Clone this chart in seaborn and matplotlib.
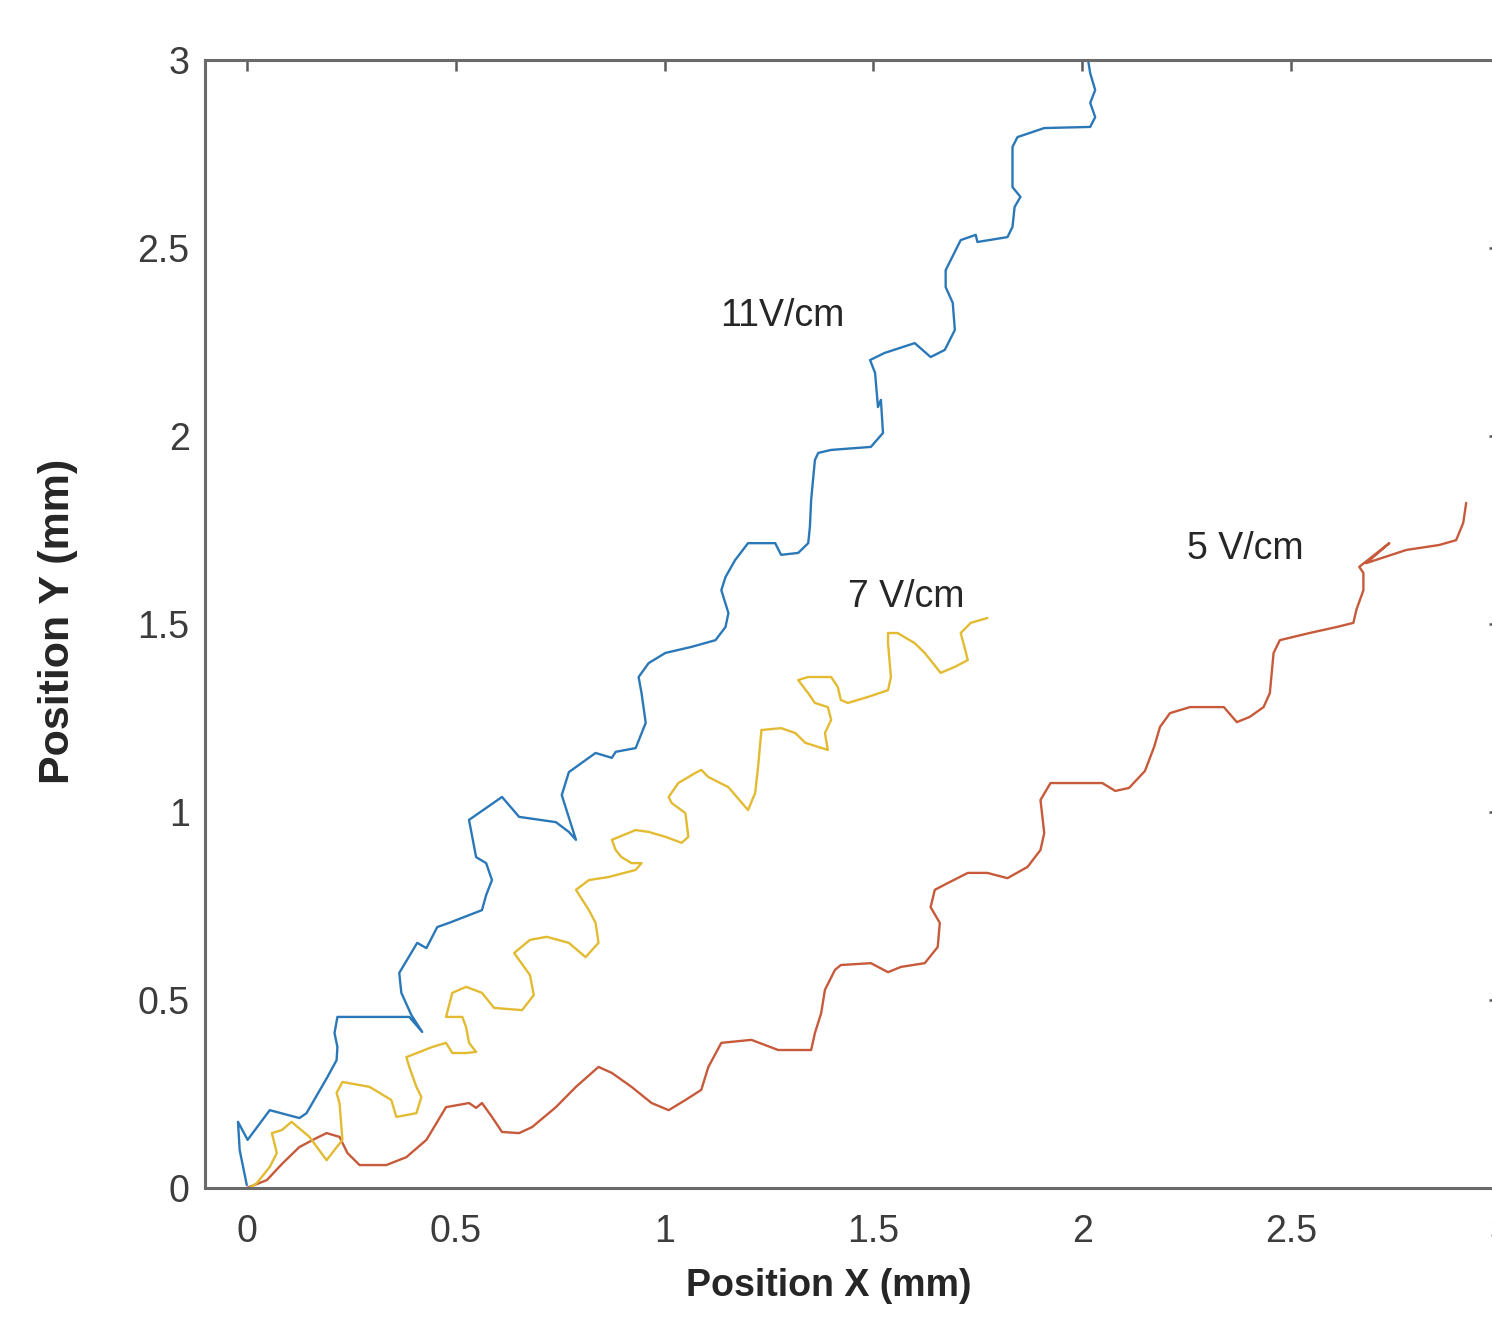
import numpy as np
import pandas as pd
import matplotlib
matplotlib.use('Agg')
import matplotlib.pyplot as plt
import seaborn as sns

# trajectories (mm)
x_11 = [0.000, -0.017, -0.021, 0.002, 0.055, 0.126, 0.143, 0.193, 0.215, 0.217, 0.210, 0.217,
        0.389, 0.420, 0.394, 0.370, 0.365, 0.408, 0.430, 0.456, 0.484, 0.563, 0.573, 0.587,
        0.573, 0.549, 0.532, 0.611, 0.652, 0.740, 0.771, 0.788, 0.754, 0.771, 0.811, 0.835,
        0.874, 0.883, 0.931, 0.955, 0.945, 0.938, 0.962, 1.002, 1.064, 1.122, 1.146, 1.153,
        1.136, 1.146, 1.169, 1.200, 1.265, 1.279, 1.320, 1.344, 1.348, 1.351, 1.360, 1.368,
        1.399, 1.494, 1.523, 1.518, 1.511, 1.504, 1.492, 1.527, 1.599, 1.637, 1.671, 1.695,
        1.690, 1.673, 1.673, 1.709, 1.745, 1.749, 1.821, 1.833, 1.838, 1.852, 1.833, 1.833,
        1.845, 1.909, 2.019, 2.031, 2.019, 2.031, 2.019, 2.012]
y_11 = [0.008, 0.101, 0.176, 0.128, 0.207, 0.186, 0.199, 0.295, 0.340, 0.375, 0.412, 0.455,
        0.455, 0.415, 0.460, 0.519, 0.572, 0.652, 0.638, 0.694, 0.705, 0.739, 0.779, 0.819,
        0.864, 0.880, 0.979, 1.040, 0.987, 0.973, 0.947, 0.926, 1.045, 1.106, 1.138, 1.157,
        1.144, 1.160, 1.170, 1.237, 1.316, 1.359, 1.396, 1.423, 1.439, 1.457, 1.492, 1.529,
        1.590, 1.625, 1.670, 1.715, 1.715, 1.684, 1.689, 1.715, 1.758, 1.830, 1.936, 1.955,
        1.963, 1.971, 2.008, 2.096, 2.077, 2.168, 2.202, 2.221, 2.247, 2.210, 2.229, 2.282,
        2.354, 2.396, 2.441, 2.521, 2.535, 2.516, 2.529, 2.556, 2.609, 2.636, 2.662, 2.769,
        2.795, 2.819, 2.822, 2.848, 2.886, 2.920, 2.965, 3.013]

x_5 = [0.000, 0.048, 0.086, 0.126, 0.167, 0.191, 0.222, 0.241, 0.270, 0.334, 0.382, 0.430,
       0.477, 0.532, 0.549, 0.563, 0.587, 0.611, 0.652, 0.683, 0.740, 0.788, 0.842, 0.874,
       0.921, 0.969, 1.010, 1.050, 1.088, 1.105, 1.136, 1.208, 1.272, 1.351, 1.360, 1.375,
       1.384, 1.408, 1.422, 1.494, 1.535, 1.566, 1.623, 1.654, 1.659, 1.637, 1.647, 1.678,
       1.726, 1.773, 1.821, 1.869, 1.900, 1.909, 1.900, 1.924, 2.000, 2.048, 2.079, 2.112,
       2.150, 2.172, 2.186, 2.210, 2.258, 2.339, 2.370, 2.401, 2.434, 2.449, 2.458, 2.473,
       2.544, 2.609, 2.649, 2.656, 2.673, 2.673, 2.663, 2.735, 2.680, 2.776, 2.854, 2.895,
       2.912, 2.919]
y_5 = [0.000, 0.021, 0.066, 0.109, 0.133, 0.146, 0.136, 0.093, 0.061, 0.061, 0.082, 0.128,
       0.215, 0.226, 0.213, 0.226, 0.189, 0.149, 0.146, 0.162, 0.215, 0.269, 0.322, 0.306,
       0.269, 0.226, 0.207, 0.234, 0.261, 0.322, 0.386, 0.394, 0.367, 0.367, 0.412, 0.465,
       0.527, 0.580, 0.593, 0.598, 0.574, 0.588, 0.598, 0.641, 0.705, 0.747, 0.793, 0.811,
       0.838, 0.838, 0.824, 0.854, 0.899, 0.944, 1.032, 1.077, 1.077, 1.077, 1.056, 1.064,
       1.109, 1.173, 1.226, 1.263, 1.279, 1.279, 1.239, 1.253, 1.279, 1.316, 1.423, 1.457,
       1.476, 1.492, 1.503, 1.537, 1.590, 1.636, 1.652, 1.715, 1.662, 1.697, 1.710, 1.723,
       1.769, 1.822]

x_7 = [0.007, 0.024, 0.055, 0.072, 0.060, 0.084, 0.107, 0.150, 0.191, 0.229, 0.222, 0.215,
       0.229, 0.294, 0.346, 0.358, 0.406, 0.418, 0.406, 0.389, 0.382, 0.444, 0.477, 0.492,
       0.525, 0.549, 0.532, 0.525, 0.516, 0.477, 0.492, 0.525, 0.563, 0.592, 0.659, 0.687,
       0.678, 0.640, 0.678, 0.718, 0.771, 0.811, 0.842, 0.835, 0.819, 0.788, 0.819, 0.866,
       0.931, 0.945, 0.921, 0.897, 0.883, 0.874, 0.931, 0.962, 1.002, 1.041, 1.057, 1.050,
       1.017, 1.010, 1.033, 1.074, 1.088, 1.105, 1.153, 1.200, 1.217, 1.224, 1.232, 1.279,
       1.313, 1.337, 1.368, 1.391, 1.384, 1.399, 1.391, 1.360, 1.344, 1.320, 1.344, 1.399,
       1.415, 1.422, 1.439, 1.487, 1.535, 1.542, 1.535, 1.535, 1.558, 1.599, 1.623, 1.661,
       1.695, 1.726, 1.718, 1.709, 1.733, 1.773]
y_7 = [0.000, 0.013, 0.056, 0.093, 0.146, 0.154, 0.176, 0.136, 0.074, 0.128, 0.226, 0.253,
       0.282, 0.269, 0.234, 0.189, 0.199, 0.242, 0.269, 0.322, 0.348, 0.375, 0.386, 0.359,
       0.359, 0.362, 0.386, 0.428, 0.455, 0.455, 0.519, 0.535, 0.519, 0.479, 0.473, 0.513,
       0.566, 0.625, 0.660, 0.668, 0.652, 0.614, 0.652, 0.705, 0.739, 0.793, 0.819, 0.827,
       0.846, 0.864, 0.864, 0.880, 0.899, 0.926, 0.952, 0.947, 0.934, 0.918, 0.934, 0.997,
       1.024, 1.040, 1.077, 1.104, 1.112, 1.093, 1.066, 1.005, 1.051, 1.120, 1.218, 1.223,
       1.210, 1.184, 1.173, 1.165, 1.210, 1.245, 1.279, 1.290, 1.316, 1.351, 1.359, 1.359,
       1.332, 1.298, 1.290, 1.306, 1.324, 1.359, 1.449, 1.476, 1.476, 1.449, 1.423, 1.370,
       1.386, 1.404, 1.439, 1.476, 1.503, 1.516]

labels = ['11V/cm', '5 V/cm', '7 V/cm']
colors = ['#2b78b8', '#c65a3a', '#e3bb33']
x_ticks = [0, 0.5, 1, 1.5, 2, 2.5, 3]
y_ticks = [0, 0.5, 1, 1.5, 2, 2.5, 3]

sns.set_style('white')
plt.rcParams['font.family'] = ['Liberation Sans', 'DejaVu Sans']

fig = plt.figure(figsize=(14.92, 13.28), dpi=100)
# the original is cropped: the right spine sits just past the image edge
ax = fig.add_axes([205 / 1492, 1 - 1188 / 1328, (1500 - 205) / 1492, (1188 - 60) / 1328])

for xs, ys, c in zip([x_11, x_5, x_7], [y_11, y_5, y_7], colors):
    df = pd.DataFrame({'x': xs, 'y': ys})
    sns.lineplot(data=df, x='x', y='y', sort=False, estimator=None, color=c, linewidth=1.7, ax=ax)

ax.set_xlim(-0.1, 3.0)
ax.set_ylim(0, 3)
ax.set_xticks(x_ticks)
ax.set_yticks(y_ticks)
ax.set_xticklabels([f'{t:g}' for t in x_ticks])
ax.set_yticklabels([f'{t:g}' for t in y_ticks])

for s in ax.spines.values():
    s.set_color('#6a6a6a')
    s.set_linewidth(2.2)
ax.tick_params(direction='in', top=True, right=True, length=8, width=1.8, color='#5a5a5a',
               labelsize=27, labelcolor='#3c3c3c')
ax.tick_params(axis='x', pad=19)
ax.tick_params(axis='y', pad=11)

ax.set_xlabel('Position X (mm)', fontsize=27, fontweight='bold')
ax.set_ylabel('Position Y (mm)', fontsize=31, fontweight='bold')
ax.xaxis.set_label_coords(0.482, -0.071)
ax.yaxis.set_label_coords(-0.098, 0.502)

# curve labels
ax.text(1.134, 2.32, labels[0], fontsize=27, va='center')
ax.text(1.439, 1.572, labels[2], fontsize=27, va='center')
ax.text(2.251, 1.70, labels[1], fontsize=27, va='center')

fig.savefig('out.png', dpi=100)
